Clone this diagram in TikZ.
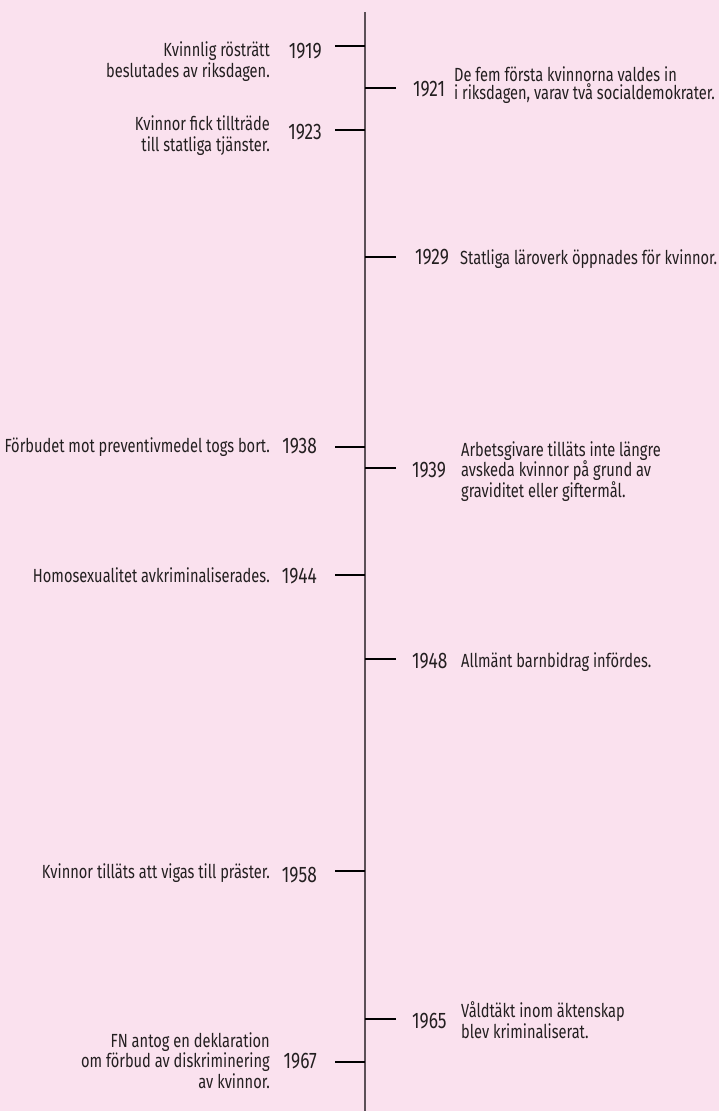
\documentclass[tikz,border=0pt]{standalone}
\usepackage{fontspec}
\setmainfont{Fira Sans}[FakeStretch=0.77]
\usetikzlibrary{positioning}

\definecolor{paper}{HTML}{FAE1EE}
\definecolor{ink}{HTML}{231F20}
\definecolor{axis}{HTML}{5C5057}

\begin{document}
\begin{tikzpicture}[
	x=1pt, y=-1pt,
	every node/.style={inner sep=0pt, text=ink}]

\tikzstyle{event} = [
    font = \fontsize{19}{20.5}\selectfont
]
\tikzstyle{lefttext} = [event, anchor = base east, align = right]
\tikzstyle{righttext} = [event, anchor = base west, align = left]
\tikzstyle{year} = [
    font = \fontsize{22.5}{24}\selectfont
]
\tikzstyle{tick} = [line width=2.3pt, draw=black]

\fill[paper] (0,0) rectangle (719,1111);
\useasboundingbox (0,0) rectangle (719,1111);

% the time axis
\coordinate (top) at (365,12);
\coordinate (bottom) at (365,1111);
\draw[axis, line width=1.7pt] (top) -- (bottom);

% left side (multi-line texts sit on their last line)
\node [year, anchor=base east] (y1919) at (322,58) {1919};
\node [lefttext] (e1919) at (270,77) {Kvinnlig rösträtt\\beslutades av riksdagen.};
\coordinate (t1919) at (335,46);

\node [year, anchor=base east] (y1923) at (322,139) {1923};
\node [lefttext] (e1923) at (270,151) {Kvinnor fick tillträde\\till statliga tjänster.};
\coordinate (t1923) at (335,130);

\node [year, anchor=base east] (y1938) at (317,453) {1938};
\node [lefttext] (e1938) at (270,452) {Förbudet mot preventivmedel togs bort.};
\coordinate (t1938) at (335,447);

\node [year, anchor=base east] (y1944) at (317,583) {1944};
\node [lefttext] (e1944) at (270,582) {Homosexualitet avkriminaliserades.};
\coordinate (t1944) at (335,575);

\node [year, anchor=base east] (y1958) at (317,882) {1958};
\node [lefttext] (e1958) at (270,878) {Kvinnor tilläts att vigas till präster.};
\coordinate (t1958) at (335,871);

\node [year, anchor=base east] (y1967) at (317,1068) {1967};
\node [lefttext] (e1967) at (270,1088) {FN antog en deklaration\\om förbud av diskriminering\\av kvinnor.};
\coordinate (t1967) at (335,1062);

% right side
\node [year, anchor=base west] (y1921) at (413,96) {1921};
\node [righttext, font=\fontsize{19}{13.5}\selectfont] (e1921) at (454,99) {De fem första kvinnorna valdes in\\i riksdagen, varav två socialdemokrater.};
\coordinate (t1921) at (396,88);

\node [year, anchor=base west] (y1929) at (415,264) {1929};
\node [righttext] (e1929) at (460,264) {Statliga läroverk öppnades för kvinnor.};
\coordinate (t1929) at (396,257);

\node [year, anchor=base west] (y1939) at (412,477) {1939};
\node [righttext] (e1939) at (461,497) {Arbetsgivare tilläts inte längre\\avskeda kvinnor på grund av\\graviditet eller giftermål.};
\coordinate (t1939) at (396,468);

\node [year, anchor=base west] (y1948) at (412,668) {1948};
\node [righttext] (e1948) at (461,667) {Allmänt barnbidrag infördes.};
\coordinate (t1948) at (396,659);

\node [year, anchor=base west] (y1965) at (412,1028) {1965};
\node [righttext] (e1965) at (461,1038) {Våldtäkt inom äktenskap\\blev kriminaliserat.};
\coordinate (t1965) at (396,1019);

% ticks
\draw [tick] (t1919) -- (t1919 -| top);
\draw [tick] (t1921) -- (t1921 -| top);
\draw [tick] (t1923) -- (t1923 -| top);
\draw [tick] (t1929) -- (t1929 -| top);
\draw [tick] (t1938) -- (t1938 -| top);
\draw [tick] (t1939) -- (t1939 -| top);
\draw [tick] (t1944) -- (t1944 -| top);
\draw [tick] (t1948) -- (t1948 -| top);
\draw [tick] (t1958) -- (t1958 -| top);
\draw [tick] (t1965) -- (t1965 -| top);
\draw [tick] (t1967) -- (t1967 -| top);
\end{tikzpicture}
\end{document}
